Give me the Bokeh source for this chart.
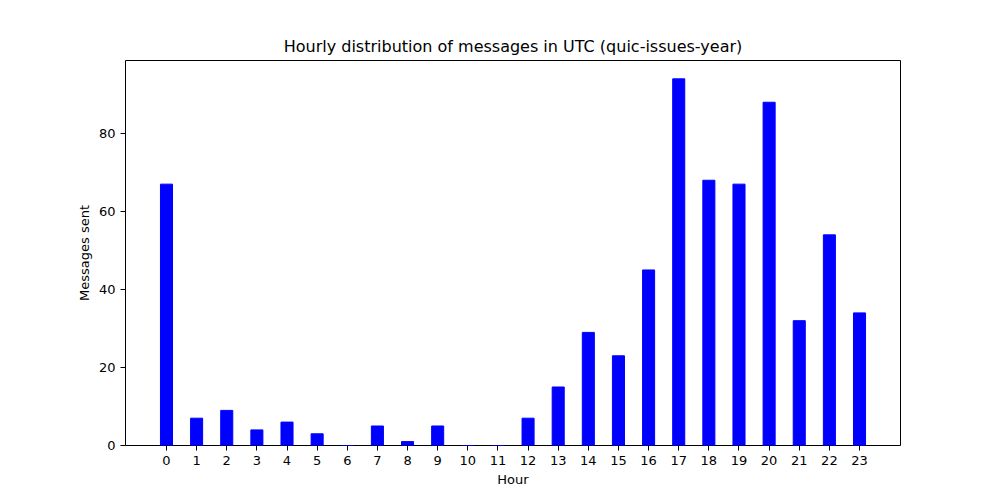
from bokeh.plotting import figure
from bokeh.models import Range1d, FixedTicker
from bokeh.embed import file_html
from bokeh.resources import INLINE

hours = list(range(24))
messages = [67, 7, 9, 4, 6, 3, 0, 5, 1, 5, 0, 0, 7, 15, 29, 23, 45, 94, 68, 67, 88, 32, 54, 34]

FONT = "DejaVu Sans"

p = figure(width=984, height=490, output_backend="svg", toolbar_location=None,
           x_range=Range1d(-1.36, 24.36), y_range=Range1d(0, 98.7),
           min_border_left=125, min_border_right=84, min_border_top=60, min_border_bottom=45,
           title="Hourly distribution of messages in UTC (quic-issues-year)")
p.vbar(x=hours, top=messages, width=0.4, color="blue")

p.title.align = "center"
p.title.text_font = FONT
p.title.text_font_size = "16px"
p.title.text_font_style = "normal"
p.title.text_color = "black"

p.xaxis.ticker = FixedTicker(ticks=hours)
p.yaxis.ticker = FixedTicker(ticks=[0, 20, 40, 60, 80])
p.xaxis.axis_label = "Hour"
p.yaxis.axis_label = "Messages sent"
for ax in (p.xaxis, p.yaxis):
    ax.axis_label_text_font = FONT
    ax.axis_label_text_font_size = "13px"
    ax.axis_label_text_font_style = "normal"
    ax.axis_label_text_color = "black"
    ax.major_label_text_font = FONT
    ax.major_label_text_font_size = "13px"
    ax.major_label_text_color = "black"
    ax.major_tick_out = 5
    ax.major_tick_in = 0
    ax.major_tick_line_color = "black"
    ax.minor_tick_out = 0
    ax.minor_tick_in = 0
    ax.axis_line_color = None
    ax.axis_label_standoff = 4
p.grid.visible = False
p.outline_line_color = "black"
p.outline_line_width = 1

open("out.html", "w").write(file_html(p, INLINE))
